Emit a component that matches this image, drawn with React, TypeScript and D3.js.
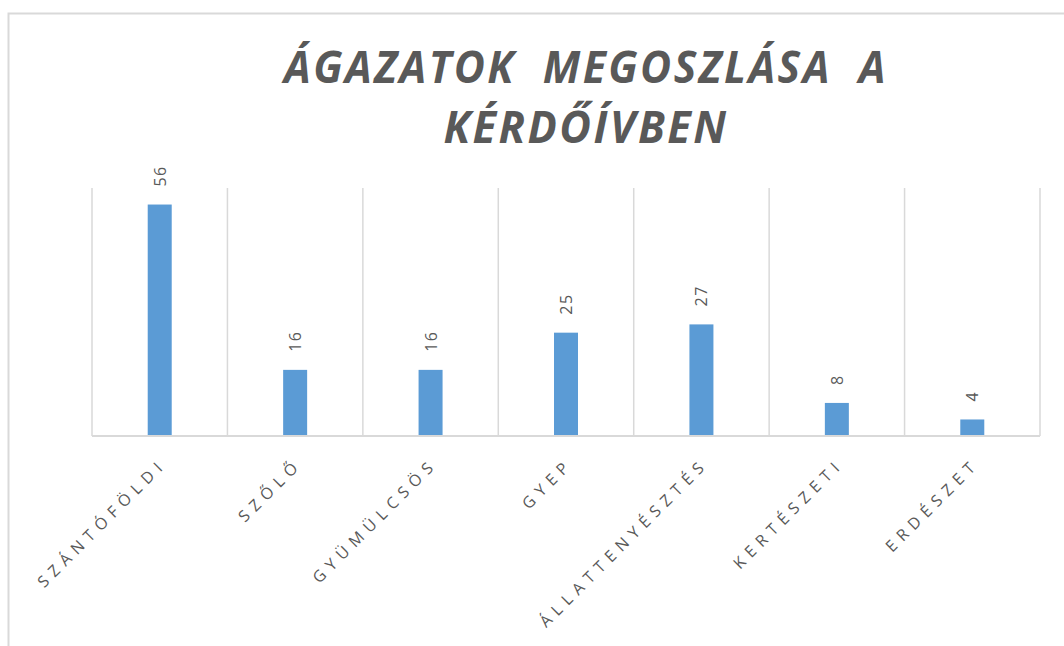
import React, { useRef, useEffect } from 'react';
import * as d3 from 'd3';

// Chart data
const categories = ['SZÁNTÓFÖLDI', 'SZŐLŐ', 'GYÜMÜLCSÖS', 'GYEP', 'ÁLLATTENYÉSZTÉS', 'KERTÉSZETI', 'ERDÉSZET'];
const values = [56, 16, 16, 25, 27, 8, 4];
const yMax = 60;
const titleLines = ['ÁGAZATOK  MEGOSZLÁSA  A', 'KÉRDŐÍVBEN'];

const App: React.FC = () => {
  const ref = useRef<SVGSVGElement | null>(null);

  const width = 1064;
  const height = 646;
  const plot = { left: 92, right: 1040, top: 188, bottom: 436 };

  useEffect(() => {
    if (!ref.current) return;
    const svg = d3.select(ref.current);
    svg.selectAll('*').remove();

    const grey = '#d9d9d9';
    const textColor = '#595959';
    const font = '"Open Sans", "DejaVu Sans", sans-serif';

    // white background + chart frame
    svg.append('rect').attr('width', width).attr('height', height).attr('fill', '#ffffff');
    svg.append('rect')
      .attr('x', 8.5)
      .attr('y', 13.5)
      .attr('width', 1200)
      .attr('height', 800)
      .attr('fill', 'none')
      .attr('stroke', grey)
      .attr('stroke-width', 2);

    // title: bold italic, squeezed into the reference width
    const titleWidths = [604, 285];
    svg.selectAll('text.title')
      .data(titleLines)
      .join('text')
      .attr('class', 'title')
      .attr('x', 586)
      .attr('y', (_d, i) => 83 + i * 60)
      .attr('text-anchor', 'middle')
      .attr('textLength', (_d, i) => titleWidths[i])
      .attr('lengthAdjust', 'spacingAndGlyphs')
      .attr('fill', textColor)
      .attr('font-family', font)
      .attr('font-weight', 'bold')
      .attr('font-style', 'italic')
      .attr('font-size', 44)
      .attr('letter-spacing', 2.5)
      .style('white-space', 'pre')
      .text((d) => d);

    const x = d3.scaleBand<string>()
      .domain(categories)
      .range([plot.left, plot.right])
      .paddingInner(0)
      .paddingOuter(0);

    const y = d3.scaleLinear().domain([0, yMax]).range([plot.bottom, plot.top]);

    // vertical gridlines at category boundaries
    const bounds = categories.map((c) => x(c) as number).concat([plot.right]);
    svg.selectAll('line.grid')
      .data(bounds)
      .join('line')
      .attr('class', 'grid')
      .attr('x1', (d) => d)
      .attr('x2', (d) => d)
      .attr('y1', plot.top)
      .attr('y2', plot.bottom)
      .attr('stroke', grey)
      .attr('stroke-width', 1.5);

    // bars
    const barW = 24;
    svg.selectAll('rect.bar')
      .data(values)
      .join('rect')
      .attr('class', 'bar')
      .attr('x', (_d, i) => (x(categories[i]) as number) + x.bandwidth() / 2 - barW / 2)
      .attr('y', (d) => y(d))
      .attr('width', barW)
      .attr('height', (d) => plot.bottom - y(d))
      .attr('fill', '#5b9bd5');

    // category axis line
    svg.append('line')
      .attr('x1', plot.left)
      .attr('x2', plot.right)
      .attr('y1', plot.bottom)
      .attr('y2', plot.bottom)
      .attr('stroke', grey)
      .attr('stroke-width', 2);

    // value labels, rotated
    svg.selectAll('text.val')
      .data(values)
      .join('text')
      .attr('class', 'val')
      .attr('transform', (d, i) => {
        const cx = (x(categories[i]) as number) + x.bandwidth() / 2 + 6;
        return `translate(${cx},${y(d) - 18}) rotate(-90)`;
      })
      .attr('fill', textColor)
      .attr('font-family', font)
      .attr('font-size', 16)
      .attr('letter-spacing', 1.5)
      .text((d) => d);

    // category labels, rotated -45
    svg.selectAll('text.cat')
      .data(categories)
      .join('text')
      .attr('class', 'cat')
      .attr('transform', (d) => {
        const cx = (x(d) as number) + x.bandwidth() / 2 + 8;
        return `translate(${cx},${plot.bottom + 29}) rotate(-45)`;
      })
      .attr('text-anchor', 'end')
      .attr('fill', textColor)
      .attr('font-family', font)
      .attr('font-size', 16)
      .attr('letter-spacing', 6.2)
      .text((d) => d);
  }, []);

  return (
    <svg
      ref={ref}
      width={width}
      height={height}
      style={{ position: 'absolute', left: 0, top: 0, display: 'block' }}
    />
  );
};

export default App;
